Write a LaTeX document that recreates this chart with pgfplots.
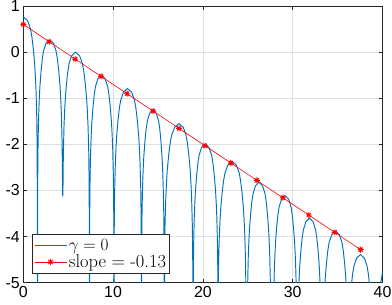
\documentclass[border=0pt]{standalone}
\usepackage{pgfplots}
\pgfplotsset{compat=1.18}
\usepackage{fontspec}
\newfontfamily\ticksans{Liberation Sans}
\definecolor{mblue}{rgb}{0,0.447,0.741}
\definecolor{mgrid}{rgb}{0.88,0.88,0.88}
\definecolor{maxis}{rgb}{0.15,0.15,0.15}
\pgfdeclareplotmark{mstar}{%
 \pgfpathmoveto{\pgfqpoint{0pt}{\pgfplotmarksize}}\pgfpathlineto{\pgfqpoint{0pt}{-\pgfplotmarksize}}%
 \pgfpathmoveto{\pgfqpoint{\pgfplotmarksize}{0pt}}\pgfpathlineto{\pgfqpoint{-\pgfplotmarksize}{0pt}}%
 \pgfpathmoveto{\pgfqpoint{.707\pgfplotmarksize}{.707\pgfplotmarksize}}\pgfpathlineto{\pgfqpoint{-.707\pgfplotmarksize}{-.707\pgfplotmarksize}}%
 \pgfpathmoveto{\pgfqpoint{.707\pgfplotmarksize}{-.707\pgfplotmarksize}}\pgfpathlineto{\pgfqpoint{-.707\pgfplotmarksize}{.707\pgfplotmarksize}}%
 \pgfusepathqstroke}
\begin{document}
\begin{tikzpicture}
\begin{axis}[
 name=ax,
 scale only axis, width=359.2bp, height=276.7bp,
 xmin=0, xmax=40, ymin=-5, ymax=1,
 xtick={0,10,20,30,40}, ytick={-5,-4,-3,-2,-1,0,1},
 grid=major, major grid style={color=mgrid, line width=0.5bp},
 axis line style={color=maxis, line width=0.6bp},
 tick style={color=maxis, line width=0.6bp},
 major tick length=3.6bp, tick align=inside,
 ticklabel style={font=\ticksans\fontsize{16}{18}\selectfont, color=black},
 /pgf/number format/assume math mode=true,
 legend style={at={(0.025,0.032)}, anchor=south west, draw=maxis, line width=0.5bp,
   font=\fontsize{18.5}{21}\selectfont, inner xsep=1.5bp, inner ysep=2.5bp, row sep=-1bp},
 legend cell align=left,
 legend image code/.code={\draw[mark repeat=2,mark phase=2,#1] plot coordinates {(0bp,0bp) (16bp,0bp) (32bp,0bp)};},
]
\addplot[mblue, line width=0.95bp] coordinates {
(0,0.765) (0.474,0.685) (0.79,0.515) (0.948,0.345) (1.106,0.085) (1.264,-0.255) (1.343,-0.515) (1.422,-0.855) (1.501,-1.435) (1.548,-2.235) (1.58,-8)
(1.607,-2.73) (1.647,-1.93) (1.714,-1.35) (1.781,-1.01) (1.848,-0.75) (1.982,-0.41) (2.116,-0.15) (2.25,0.02) (2.518,0.19) (2.92,0.27) (3.361,0.19) (3.655,0.02) (3.802,-0.15) (3.949,-0.41) (4.096,-0.75) (4.17,-1.01) (4.243,-1.35) (4.317,-1.93) (4.361,-2.73) (4.39,-3.13)
(4.418,-3.0) (4.46,-2.2) (4.531,-1.62) (4.601,-1.28) (4.672,-1.02) (4.813,-0.68) (4.954,-0.42) (5.095,-0.25) (5.377,-0.08) (5.8,0) (6.271,-0.08) (6.585,-0.25) (6.742,-0.42) (6.899,-0.68) (7.056,-1.02) (7.135,-1.28) (7.213,-1.62) (7.292,-2.2) (7.339,-3.0) (7.37,-8)
(7.397,-3.5) (7.436,-2.7) (7.503,-2.12) (7.569,-1.78) (7.636,-1.52) (7.769,-1.18) (7.902,-0.92) (8.035,-0.75) (8.301,-0.58) (8.7,-0.5) (9.12,-0.58) (9.4,-0.75) (9.54,-0.92) (9.68,-1.18) (9.82,-1.52) (9.89,-1.78) (9.96,-2.12) (10.03,-2.7) (10.072,-3.5) (10.1,-8)
(10.13,-3.79) (10.175,-2.99) (10.25,-2.41) (10.325,-2.07) (10.4,-1.81) (10.55,-1.47) (10.7,-1.21) (10.85,-1.04) (11.15,-0.87) (11.6,-0.79) (12.068,-0.87) (12.38,-1.04) (12.536,-1.21) (12.692,-1.47) (12.848,-1.81) (12.926,-2.07) (13.004,-2.41) (13.082,-2.99) (13.129,-3.79) (13.16,-8)
(13.186,-4.25) (13.224,-3.45) (13.289,-2.87) (13.353,-2.53) (13.418,-2.27) (13.547,-1.93) (13.676,-1.67) (13.805,-1.5) (14.063,-1.33) (14.45,-1.25) (14.825,-1.33) (15.075,-1.5) (15.2,-1.67) (15.325,-1.93) (15.45,-2.27) (15.513,-2.53) (15.575,-2.87) (15.638,-3.45) (15.675,-4.25) (15.7,-8)
(15.733,-4.55) (15.782,-3.75) (15.864,-3.17) (15.946,-2.83) (16.028,-2.57) (16.192,-2.23) (16.356,-1.97) (16.52,-1.8) (16.848,-1.63) (17.34,-1.55) (17.808,-1.63) (18.12,-1.8) (18.276,-1.97) (18.432,-2.23) (18.588,-2.57) (18.666,-2.83) (18.744,-3.17) (18.822,-3.75) (18.869,-4.55) (18.9,-8)
(18.927,-4.99) (18.967,-4.19) (19.035,-3.61) (19.102,-3.27) (19.17,-3.01) (19.305,-2.67) (19.44,-2.41) (19.575,-2.24) (19.845,-2.07) (20.25,-1.99) (20.685,-2.07) (20.975,-2.24) (21.12,-2.41) (21.265,-2.67) (21.41,-3.01) (21.483,-3.27) (21.555,-3.61) (21.628,-4.19) (21.671,-4.99) (21.7,-8)
(21.702,-5.37) (21.749,-4.57) (21.828,-3.99) (21.907,-3.65) (21.986,-3.39) (22.144,-3.05) (22.302,-2.79) (22.46,-2.62) (22.776,-2.45) (23.25,-2.37) (23.724,-2.45) (24.04,-2.62) (24.198,-2.79) (24.356,-3.05) (24.514,-3.39) (24.593,-3.65) (24.672,-3.99) (24.751,-4.57) (24.798,-5.37) (24.83,-8)
(24.92,-8) (24.947,-5.82) (24.986,-5.02) (25.053,-4.44) (25.119,-4.10) (25.186,-3.84) (25.319,-3.50) (25.452,-3.24) (25.585,-3.07) (25.851,-2.90) (26.25,-2.82) (26.649,-2.90) (26.915,-3.07) (27.048,-3.24) (27.181,-3.50) (27.314,-3.84) (27.381,-4.10) (27.447,-4.44) (27.514,-5.02) (27.553,-5.82) (27.58,-8)
(27.82,-8) (27.847,-6.11) (27.886,-5.31) (27.953,-4.73) (28.019,-4.39) (28.086,-4.13) (28.219,-3.79) (28.352,-3.53) (28.485,-3.36) (28.751,-3.19) (29.15,-3.11) (29.549,-3.19) (29.815,-3.36) (29.948,-3.53) (30.081,-3.79) (30.214,-4.13) (30.281,-4.39) (30.347,-4.73) (30.414,-5.31) (30.453,-6.11) (30.48,-8)
(30.52,-8) (30.587,-5.80) (30.655,-5.22) (30.722,-4.88) (30.79,-4.62) (30.925,-4.28) (31.06,-4.02) (31.195,-3.85) (31.465,-3.68) (31.87,-3.60) (32.275,-3.68) (32.545,-3.85) (32.68,-4.02) (32.815,-4.28) (32.95,-4.62) (33.018,-4.88) (33.085,-5.22) (33.153,-5.80) (33.22,-8)
(33.34,-8) (33.483,-5.50) (33.554,-5.16) (33.626,-4.90) (33.769,-4.56) (33.912,-4.30) (34.055,-4.13) (34.341,-3.96) (34.77,-3.88) (35.199,-3.96) (35.485,-4.13) (35.628,-4.30) (35.771,-4.56) (35.914,-4.90) (35.986,-5.16) (36.057,-5.50) (36.2,-8)
(36.22,-8) (36.309,-5.67) (36.382,-5.41) (36.528,-5.07) (36.674,-4.81) (36.82,-4.64) (37.112,-4.47) (37.55,-4.39) (37.988,-4.47) (38.28,-4.64) (38.426,-4.81) (38.572,-5.07) (38.718,-5.41) (38.791,-5.67) (39.01,-8)
(39.3,-8) (39.6,-5.6) (39.8,-5.0) (40,-4.78)
};
\addlegendentry{$\gamma = 0$}
\addplot[red, line width=0.6bp, mark=mstar, mark size=3bp, mark options={line width=0.9bp}] coordinates {
(0,0.6) (2.89,0.2243) (5.78,-0.1514) (8.67,-0.5271) (11.56,-0.9028) (14.45,-1.2785) (17.34,-1.6542) (20.23,-2.0299) (23.12,-2.4056) (26.01,-2.7813) (28.9,-3.157) (31.79,-3.5327) (34.68,-3.9084) (37.57,-4.2841)
};
\addlegendentry{slope = -0.13}
\end{axis}
\pgfresetboundingbox
\path ([xshift=-23.3bp,yshift=-22.3bp]ax.south west) rectangle ([xshift=9.5bp,yshift=6bp]ax.north east);
\end{tikzpicture}
\end{document}
